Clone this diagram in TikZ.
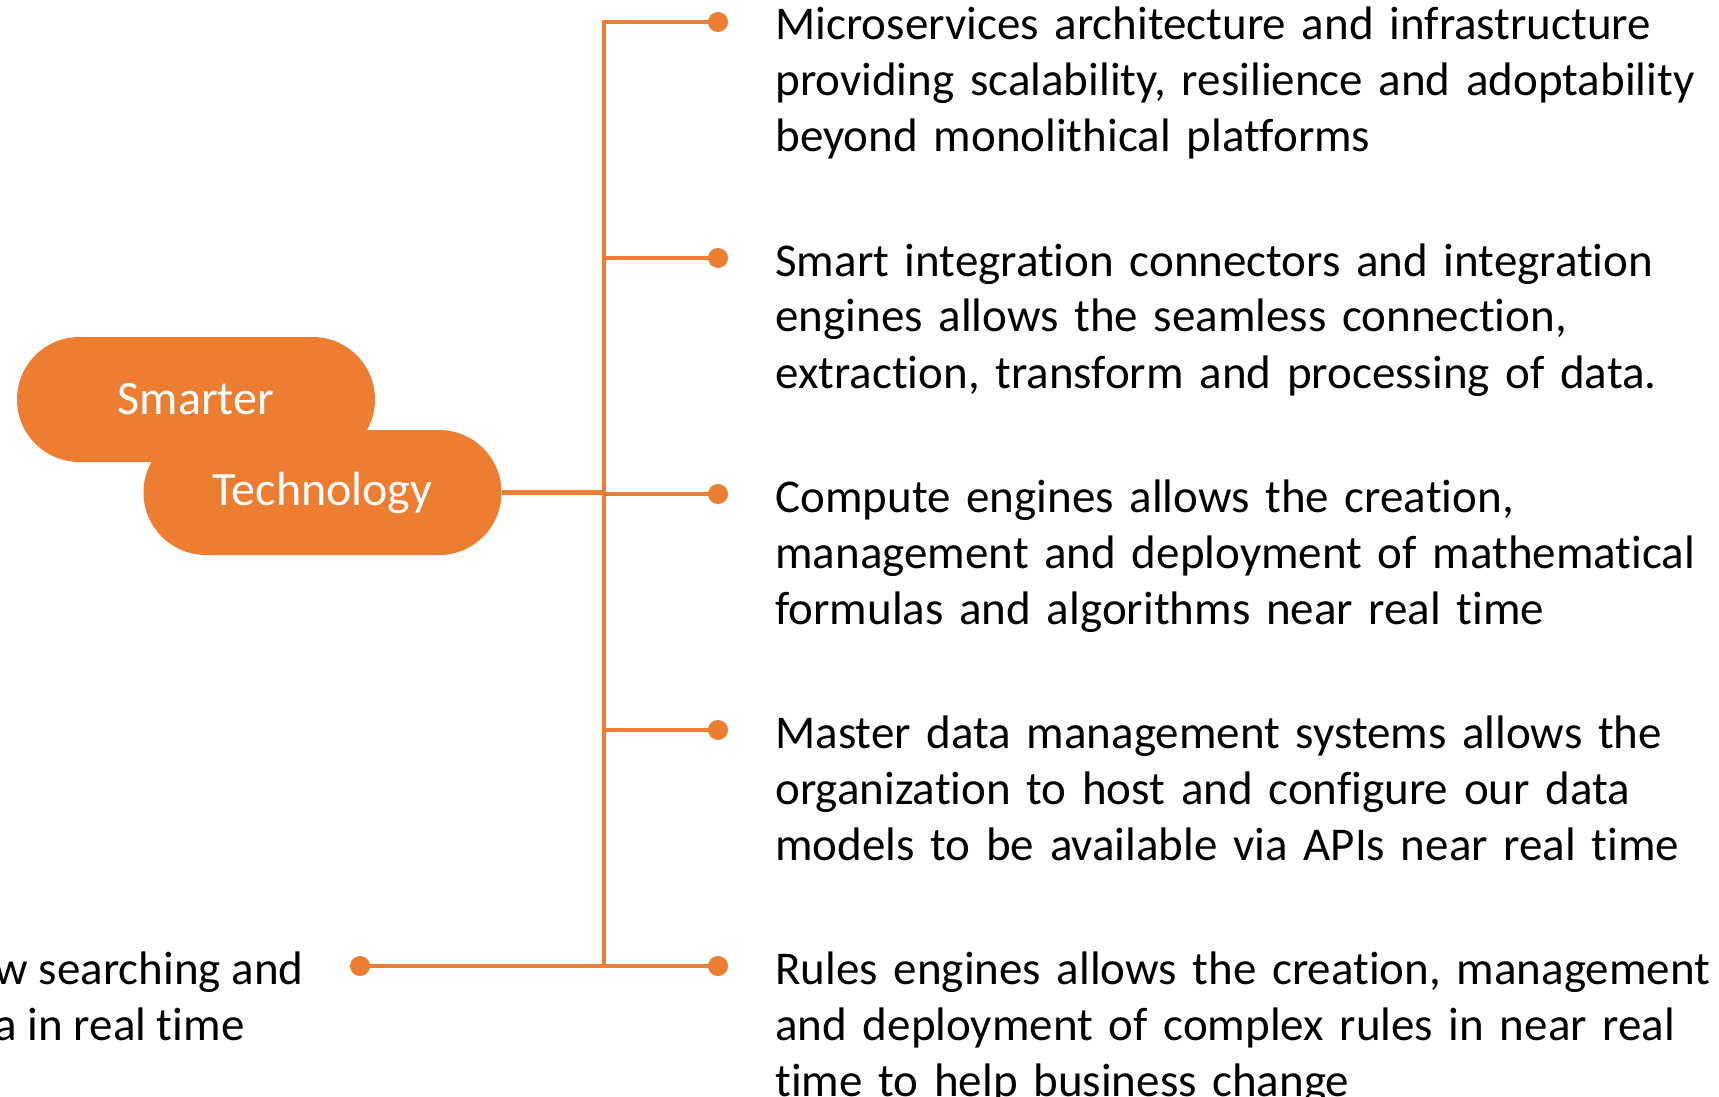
\documentclass[tikz,border=0pt]{standalone}
\usepackage{fontspec}
\setmainfont{Carlito}[Ligatures=NoCommon]
\usetikzlibrary{shapes.misc,positioning}
\definecolor{accent}{HTML}{ED7D31}

\begin{document}
\begin{tikzpicture}[x=0.5pt,y=-0.5pt,
    pill/.style={rounded rectangle, fill=accent, text=white, minimum width=179pt, minimum height=62.5pt, inner sep=0pt, font=\fontsize{24}{28}\selectfont},
    dot/.style={circle, fill=accent, inner sep=0pt, minimum size=10pt},
    wire/.style={draw=accent, line width=2.25pt},
    item/.style={anchor=base west, inner sep=0pt, text width=520pt, align=left, font=\fontsize{23.5}{28}\selectfont},
    side/.style={inner sep=0pt, font=\fontsize{23.5}{28}\selectfont}]
    \useasboundingbox (0,0) rectangle (1719,1097);

    % Title pills
    \node[pill] (smarter) at (196,399.5) {Smarter};
    \node[pill] (tech) at (322.5,492.5) {Technology};

    % Trunk ends
    \coordinate (top) at (604,22);
    \coordinate (bot) at (604,966);

    % Dots
    \node[dot] (d1) at (718,22) {};
    \node[dot] (d2) at (718,258) {};
    \node[dot] (d3) at (718,494) {};
    \node[dot] (d4) at (718,730) {};
    \node[dot] (d5) at (718,966) {};
    \node[dot] (dl) at (360,966) {};

    % Wires
    \draw[wire] (d1.center) -- (top) -- (bot);
    \draw[wire] (d2 -| top) -- (d2.center);
    \draw[wire] (d3 -| top) -- (d3.center);
    \draw[wire] (d4 -| top) -- (d4.center);
    \draw[wire] (dl.center) -- (d5.center);
    \draw[wire] (tech.east) -- (tech.east -| top);

    % Texts
    \node[item] (t1) at (775,40) {Microservices architecture and infrastructure\\providing scalability, resilience and adoptability\\beyond monolithical platforms};
    \node[item] (t2) at (775,276) {Smart integration connectors and integration\\engines allows the seamless connection,\\extraction, transform and processing of data.};
    \node[item] (t3) at (775,512) {Compute engines allows the creation,\\management and deployment of mathematical\\formulas and algorithms near real time};
    \node[item] (t4) at (775,748) {Master data management systems allows the\\organization to host and configure our data\\models to be available via APIs near real time};
    \node[item] (t5) at (775,984) {Rules engines allows the creation, management\\and deployment of complex rules in near real\\time to help business change};

    \node[side, anchor=base east] (l1) at (304,984) {w searching and};
    \node[side, anchor=base west] (l2) at ([yshift=-28pt]l1.base west) {a in real time};
\end{tikzpicture}
\end{document}
